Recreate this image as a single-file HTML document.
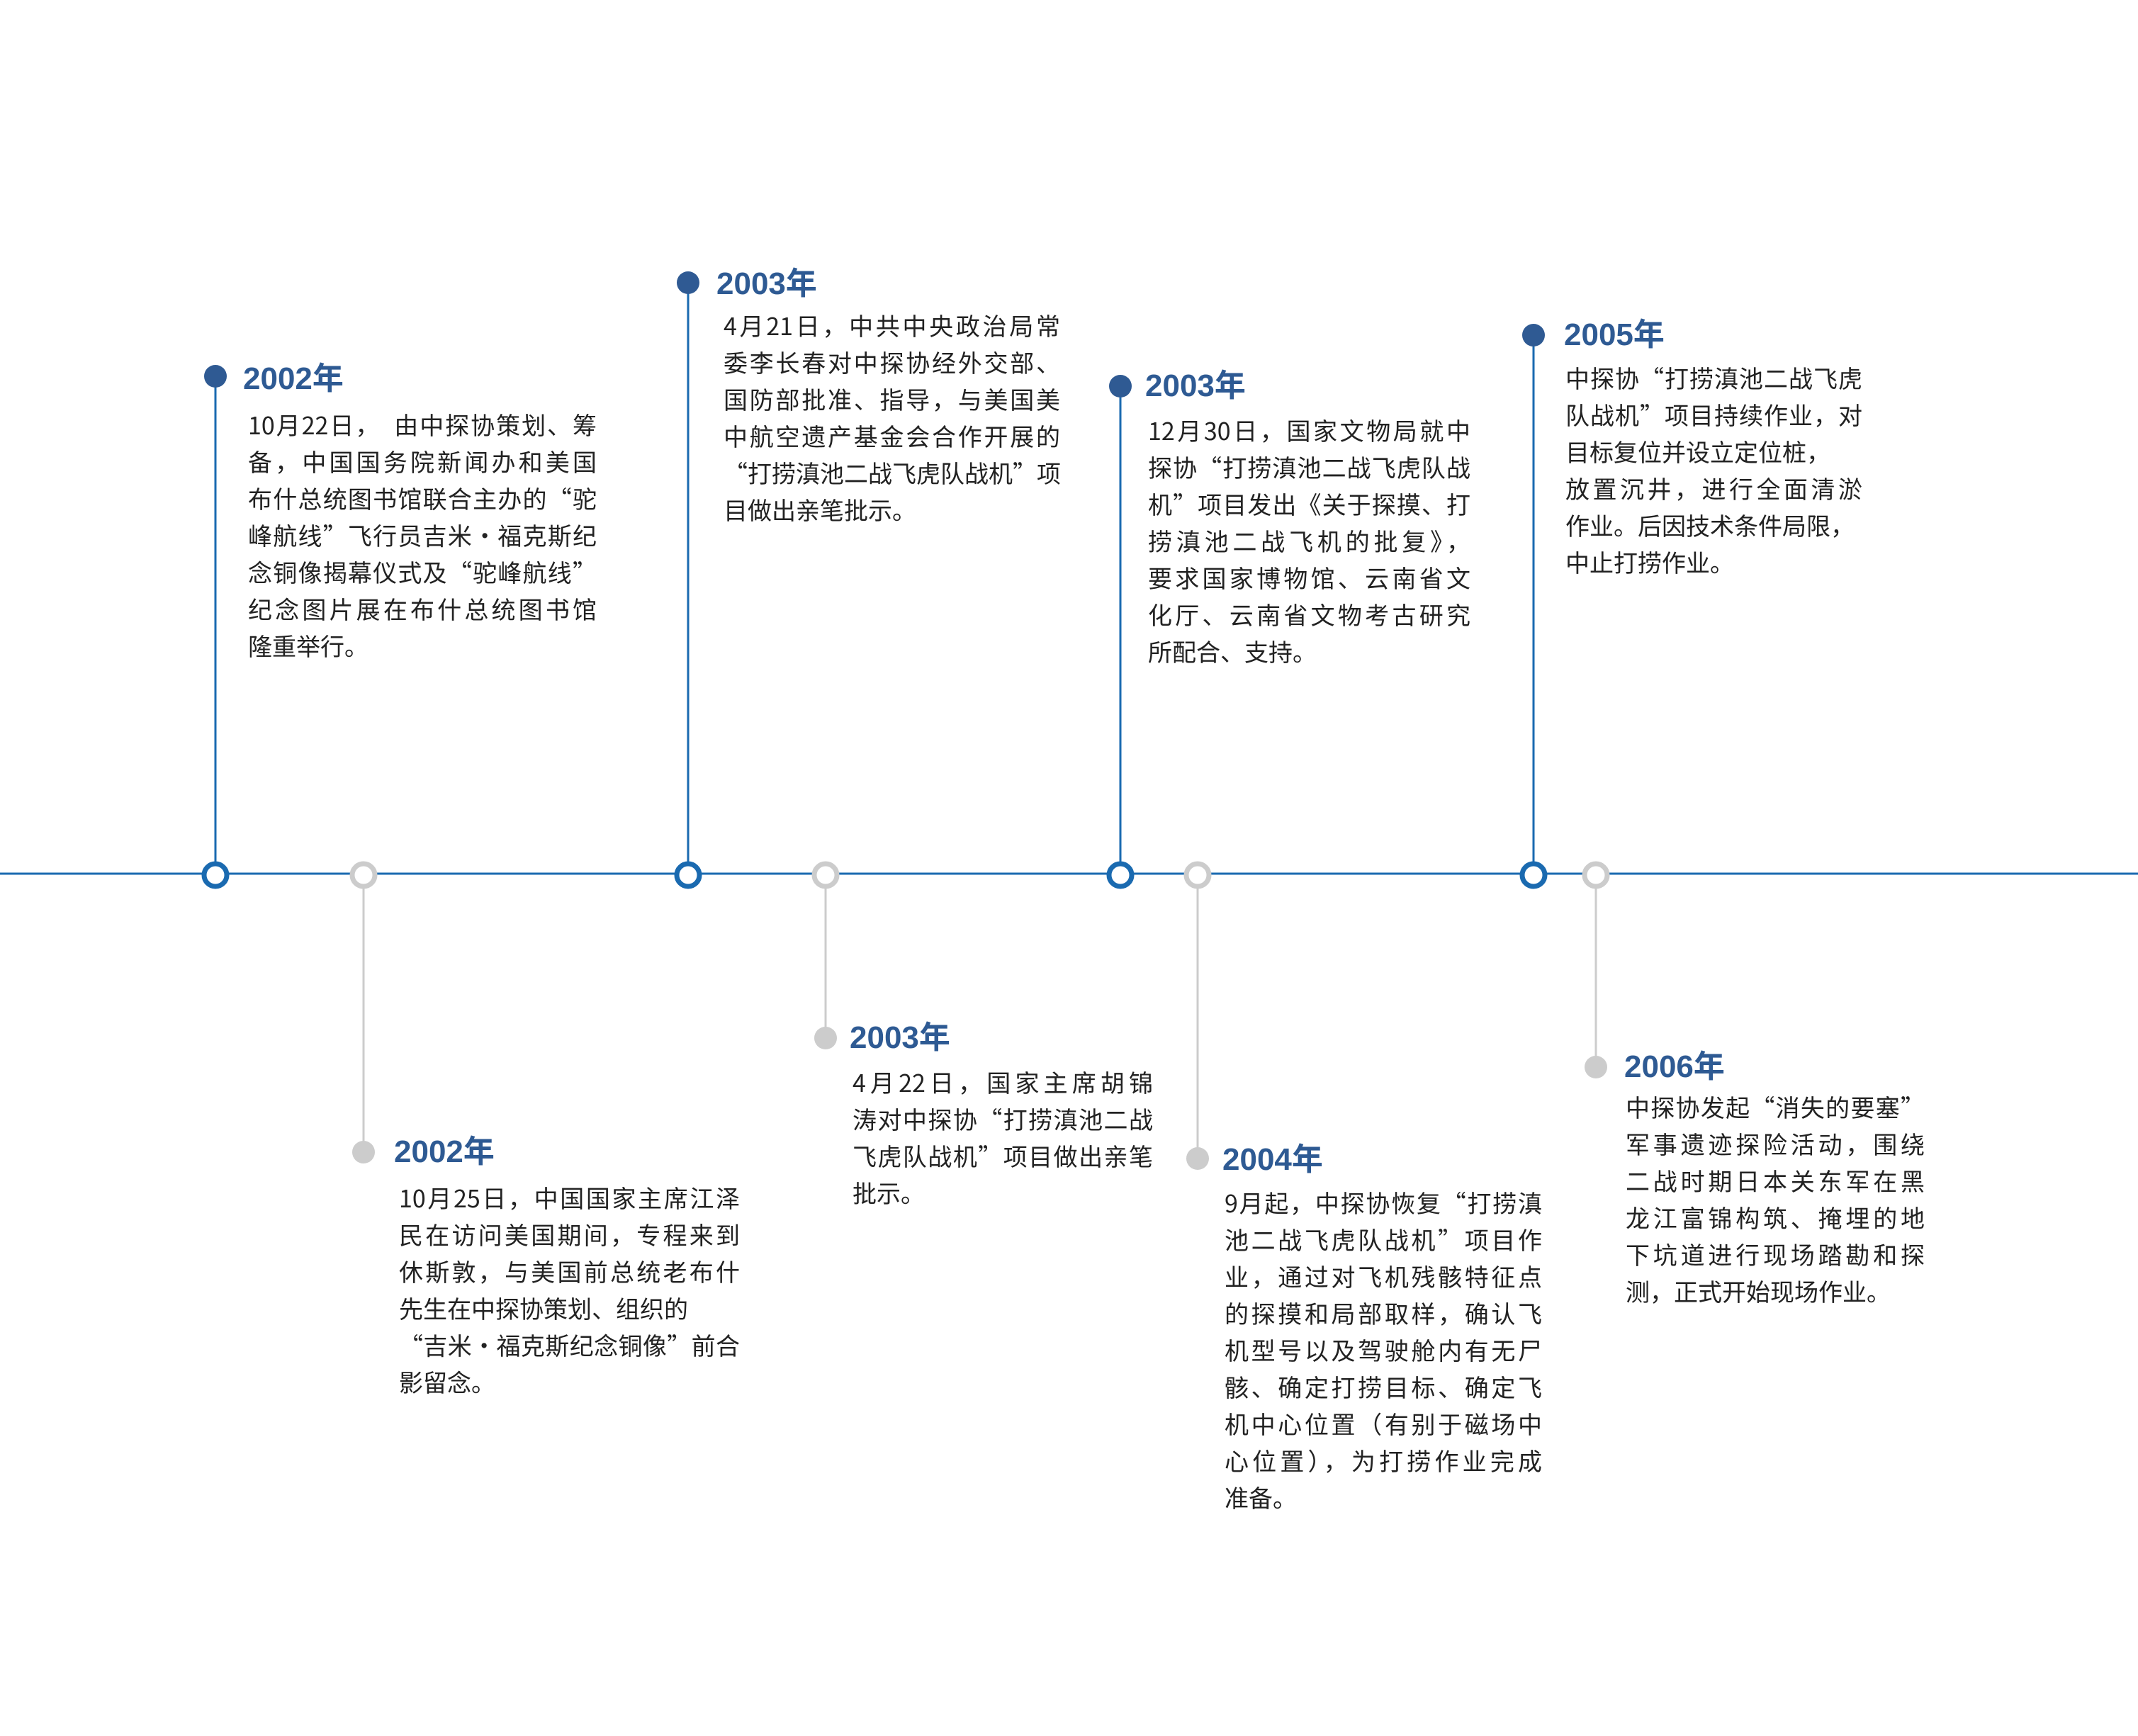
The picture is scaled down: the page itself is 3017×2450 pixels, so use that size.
<!DOCTYPE html>
<html><head><meta charset="utf-8"><style>
html,body{margin:0;padding:0;background:#fff;}
body{width:3017px;height:2450px;position:relative;overflow:hidden;font-family:"Liberation Sans","Noto Sans CJK SC",sans-serif;}
.a{position:absolute;}
.yr{position:absolute;color:#2e5a93;font-size:44px;font-weight:bold;line-height:52px;white-space:nowrap;}
.body{position:absolute;color:#222;font-size:34px;line-height:52px;font-family:"Noto Sans CJK SC","Liberation Sans",sans-serif;}
.body div{text-align:justify;text-align-last:justify;text-justify:inter-character;white-space:nowrap;height:52px;}
.body div.l{text-align-last:left;}
</style></head><body>
<svg class="a" style="left:0;top:0" width="3017" height="2450">
<line x1="0" y1="1233" x2="3017" y2="1233" stroke="#1a6ab0" stroke-width="3"/>
<g stroke="#1a6ab0" stroke-width="3">
<line x1="304" y1="531" x2="304" y2="1233"/>
<line x1="971" y1="399" x2="971" y2="1233"/>
<line x1="1581" y1="545" x2="1581" y2="1233"/>
<line x1="2164" y1="473" x2="2164" y2="1233"/>
</g>
<g stroke="#cccccc" stroke-width="3">
<line x1="513" y1="1233" x2="513" y2="1626"/>
<line x1="1165" y1="1233" x2="1165" y2="1465"/>
<line x1="1690" y1="1233" x2="1690" y2="1635"/>
<line x1="2252" y1="1233" x2="2252" y2="1506"/>
</g>
<g fill="#2f5a93">
<circle cx="304" cy="531" r="16"/><circle cx="971" cy="399" r="16"/><circle cx="1581" cy="545" r="16"/><circle cx="2164" cy="473" r="16"/>
</g>
<g fill="#cccccc">
<circle cx="513" cy="1626" r="16"/><circle cx="1165" cy="1465" r="16"/><circle cx="1690" cy="1635" r="16"/><circle cx="2252" cy="1506" r="16"/>
</g>
<g fill="#fff" stroke="#1a6ab0" stroke-width="7">
<circle cx="304" cy="1235" r="16"/><circle cx="971" cy="1235" r="16"/><circle cx="1581" cy="1235" r="16"/><circle cx="2164" cy="1235" r="16"/>
</g>
<g fill="#fff" stroke="#cccccc" stroke-width="7">
<circle cx="513" cy="1235" r="16"/><circle cx="1165" cy="1235" r="16"/><circle cx="1690" cy="1235" r="16"/><circle cx="2252" cy="1235" r="16"/>
</g>
</svg>

<div class="yr" style="left:343px;top:509px">2002年</div>
<div class="body" style="left:350px;top:573px;width:492px">
<div>10月22日，　由中探协策划、筹</div>
<div>备，中国国务院新闻办和美国</div>
<div>布什总统图书馆联合主办的“驼</div>
<div>峰航线”飞行员吉米·福克斯纪</div>
<div>念铜像揭幕仪式及“驼峰航线”</div>
<div>纪念图片展在布什总统图书馆</div>
<div class="l">隆重举行。</div>
</div>

<div class="yr" style="left:1011px;top:375px">2003年</div>
<div class="body" style="left:1021px;top:433px;width:475px">
<div>4月21日，中共中央政治局常</div>
<div>委李长春对中探协经外交部、</div>
<div>国防部批准、指导，与美国美</div>
<div>中航空遗产基金会合作开展的</div>
<div>“打捞滇池二战飞虎队战机”项</div>
<div class="l">目做出亲笔批示。</div>
</div>

<div class="yr" style="left:1616px;top:519px">2003年</div>
<div class="body" style="left:1620px;top:581px;width:455px">
<div>12月30日，国家文物局就中</div>
<div>探协“打捞滇池二战飞虎队战</div>
<div>机”项目发出《关于探摸、打</div>
<div>捞滇池二战飞机的批复》，</div>
<div>要求国家博物馆、云南省文</div>
<div>化厅、云南省文物考古研究</div>
<div class="l">所配合、支持。</div>
</div>

<div class="yr" style="left:2207px;top:447px">2005年</div>
<div class="body" style="left:2209px;top:507px;width:419px">
<div>中探协“打捞滇池二战飞虎</div>
<div>队战机”项目持续作业，对</div>
<div class="l">目标复位并设立定位桩，</div>
<div>放置沉井，进行全面清淤</div>
<div class="l">作业。后因技术条件局限，</div>
<div class="l">中止打捞作业。</div>
</div>

<div class="yr" style="left:556px;top:1600px">2002年</div>
<div class="body" style="left:563px;top:1664px;width:481px">
<div>10月25日，中国国家主席江泽</div>
<div>民在访问美国期间，专程来到</div>
<div>休斯敦，与美国前总统老布什</div>
<div class="l">先生在中探协策划、组织的</div>
<div>“吉米·福克斯纪念铜像”前合</div>
<div class="l">影留念。</div>
</div>

<div class="yr" style="left:1199px;top:1439px">2003年</div>
<div class="body" style="left:1203px;top:1501px;width:424px">
<div>4月22日，国家主席胡锦</div>
<div>涛对中探协“打捞滇池二战</div>
<div>飞虎队战机”项目做出亲笔</div>
<div class="l">批示。</div>
</div>

<div class="yr" style="left:1725px;top:1611px">2004年</div>
<div class="body" style="left:1728px;top:1671px;width:448px">
<div>9月起，中探协恢复“打捞滇</div>
<div>池二战飞虎队战机”项目作</div>
<div>业，通过对飞机残骸特征点</div>
<div>的探摸和局部取样，确认飞</div>
<div>机型号以及驾驶舱内有无尸</div>
<div>骸、确定打捞目标、确定飞</div>
<div>机中心位置（有别于磁场中</div>
<div>心位置），为打捞作业完成</div>
<div class="l">准备。</div>
</div>

<div class="yr" style="left:2292px;top:1480px">2006年</div>
<div class="body" style="left:2294px;top:1536px;width:422px">
<div>中探协发起“消失的要塞”</div>
<div>军事遗迹探险活动，围绕</div>
<div>二战时期日本关东军在黑</div>
<div>龙江富锦构筑、掩埋的地</div>
<div>下坑道进行现场踏勘和探</div>
<div class="l">测，正式开始现场作业。</div>
</div>
</body></html>
